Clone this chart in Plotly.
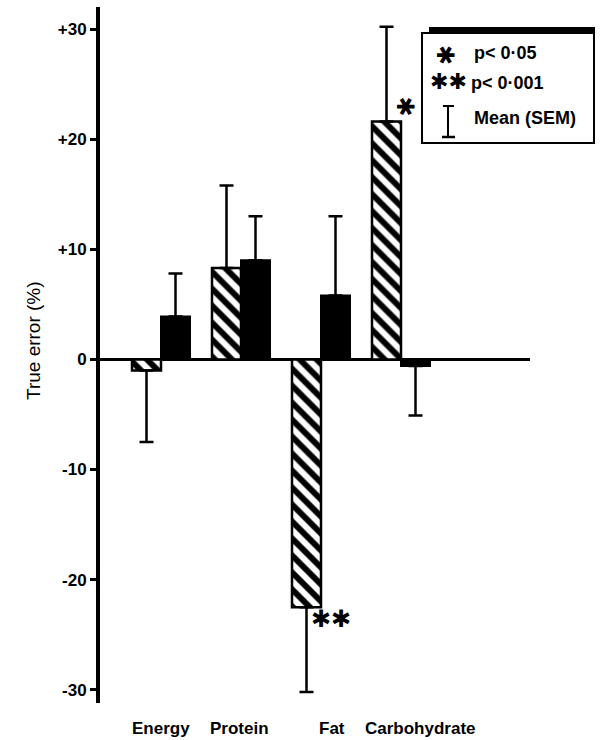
import plotly.graph_objects as go

# ---- data ----
categories = ["Energy", "Protein", "Fat", "Carbohydrate"]
hatched_mean = [-1.0, 8.3, -22.5, 21.6]
hatched_sem = [6.5, 7.5, 7.7, 8.6]
solid_mean = [3.9, 9.0, 5.8, -0.6]
solid_sem = [3.9, 4.0, 7.2, 4.5]
ytick_vals = [30, 20, 10, 0, -10, -20, -30]
ytick_text = ["+30", "+20", "+10", "0", "-10", "-20", "-30"]
sig_marks = {"Fat": "✱✱", "Carbohydrate": "✱"}

# ---- layout constants (pixels) ----
W, H = 600, 740
L, R, T, B = 100, 70, 7, 37
PW, PH = W - L - R, H - T - B

def px(x):
    return (x - L) / PW

def py(y):
    return (H - B - y) / PH

def up(vals, errs):
    return [e if v >= 0 else 0 for v, e in zip(vals, errs)]

def down(vals, errs):
    return [e if v < 0 else 0 for v, e in zip(vals, errs)]

xi = list(range(len(categories)))

fig = go.Figure()
fig.add_trace(go.Bar(
    x=xi, y=hatched_mean,
    marker=dict(color="white", line=dict(color="black", width=2.5),
                pattern=dict(shape="\\", fgcolor="black", bgcolor="white",
                             fgopacity=1, size=12, solidity=0.5)),
    error_y=dict(type="data", symmetric=False,
                 array=up(hatched_mean, hatched_sem),
                 arrayminus=down(hatched_mean, hatched_sem),
                 color="black", thickness=2.5, width=7),
    showlegend=False,
))
fig.add_trace(go.Bar(
    x=xi, y=solid_mean,
    marker=dict(color="black", line=dict(color="black", width=2)),
    error_y=dict(type="data", symmetric=False,
                 array=up(solid_mean, solid_sem),
                 arrayminus=down(solid_mean, solid_sem),
                 color="black", thickness=2.5, width=7),
    showlegend=False,
))

font = "Liberation Sans, Arial, sans-serif"
ast_font = dict(family="DejaVu Sans", size=24, color="black")
ann = []
# category labels
label_xshift = [0, -2, 11, 19]
for i, c in enumerate(categories):
    ann.append(dict(x=i, y=0, xref="x", yref="paper", text=c, showarrow=False,
                    xanchor="center", yanchor="middle", yshift=-25,
                    xshift=label_xshift[i],
                    font=dict(family=font, size=17, color="black", weight="bold")))
# significance marks
sig_shift = {"Fat": (10, -12), "Carbohydrate": (4, 15)}
for c, m in sig_marks.items():
    i = categories.index(c)
    ann.append(dict(x=i, y=hatched_mean[i], xref="x", yref="y", text=m,
                    showarrow=False, xanchor="center", yanchor="middle",
                    xshift=sig_shift[c][0], yshift=sig_shift[c][1],
                    textangle=90 if len(m) == 1 else 0, font=ast_font))
# y title
ann.append(dict(x=px(33), y=py(341), xref="paper", yref="paper",
                text="True error (%)", textangle=-90, showarrow=False,
                xanchor="center", yanchor="middle",
                font=dict(family=font, size=19, color="black")))
# legend texts
ann += [
    dict(x=px(445), y=py(55), text="✱", textangle=90, font=ast_font),
    dict(x=px(448), y=py(82), text="✱✱", font=dict(family="DejaVu Sans", size=22, color="black")),
]
for a in ann[-2:]:
    a.update(xref="paper", yref="paper", showarrow=False, xanchor="center", yanchor="middle")
leg_font = dict(family=font, size=18, color="black", weight="bold")
for txt, x0, yc in [("p&lt; 0·05", 472, 53), ("p&lt; 0·001", 469, 83), ("Mean (SEM)", 472, 118)]:
    ann.append(dict(x=px(x0), y=py(yc), xref="paper", yref="paper", text=txt,
                    showarrow=False, xanchor="left", yanchor="middle", font=leg_font))

shapes = [
    # legend box
    dict(type="rect", xref="paper", yref="paper", x0=px(422), x1=px(594),
         y0=py(143), y1=py(33), line=dict(color="black", width=2), fillcolor="white",
         layer="above"),
    dict(type="rect", xref="paper", yref="paper", x0=px(429), x1=px(595),
         y0=py(33), y1=py(27), line=dict(color="black", width=0), fillcolor="black",
         layer="above"),
    # I-beam symbol
    dict(type="line", xref="paper", yref="paper", x0=px(448), x1=px(448),
         y0=py(106), y1=py(137), line=dict(color="black", width=2)),
    dict(type="line", xref="paper", yref="paper", x0=px(443), x1=px(454),
         y0=py(106), y1=py(106), line=dict(color="black", width=2)),
    dict(type="line", xref="paper", yref="paper", x0=px(442), x1=px(455),
         y0=py(137), y1=py(137), line=dict(color="black", width=2.5)),
]

fig.update_layout(
    width=W, height=H,
    margin=dict(l=L, r=R, t=T, b=B, autoexpand=False),
    paper_bgcolor="white", plot_bgcolor="white",
    barmode="group", bargap=0.275, bargroupgap=0,
    showlegend=False,
    xaxis=dict(range=[-0.7625, -0.7625 + PW / 80], showgrid=False, zeroline=False,
               showline=False, showticklabels=False, ticks="", fixedrange=True),
    yaxis=dict(range=[-31.2, 32.0], showgrid=False,
               zeroline=True, zerolinecolor="black", zerolinewidth=2.5,
               showline=True, linecolor="black", linewidth=4,
               ticks="outside", ticklen=6, tickwidth=2.5, tickcolor="black",
               tickvals=ytick_vals, ticktext=ytick_text,
               tickfont=dict(family=font, size=17, color="black", weight="bold")),
    annotations=ann,
    shapes=shapes,
)

fig.write_html("out.html", config={"displayModeBar": False},
               post_script="document.body.style.margin='0';document.body.style.overflow='hidden';")
